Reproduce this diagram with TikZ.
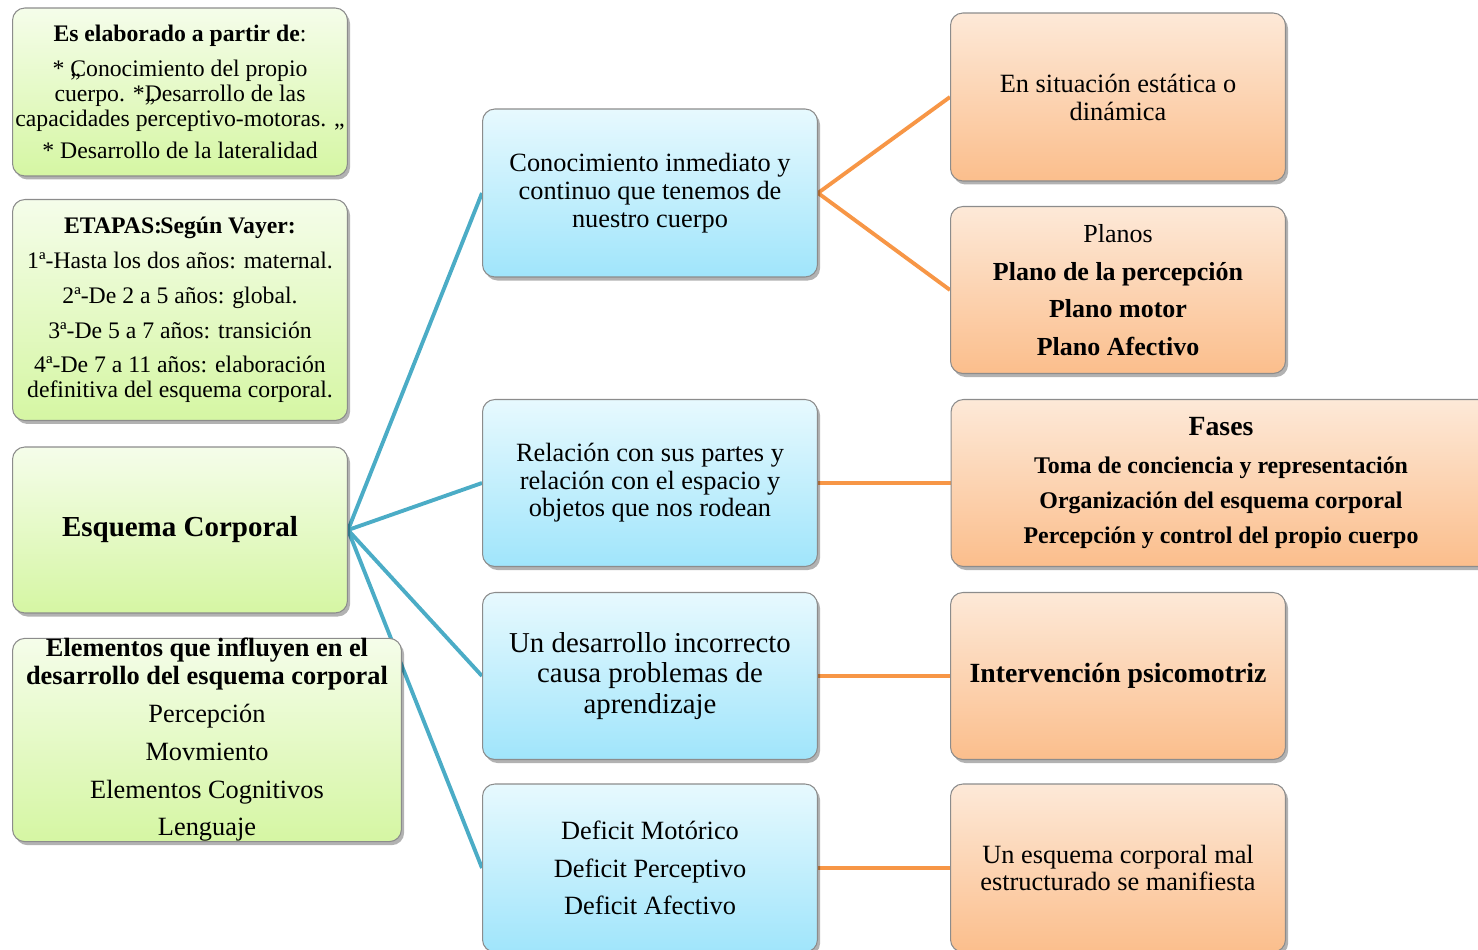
\documentclass[tikz,border=0pt]{standalone}
\usepackage{fontspec}
\setmainfont{Liberation Serif}
\usetikzlibrary{shadows,backgrounds}
\definecolor{lineblue}{RGB}{75,172,198}
\definecolor{lineorange}{RGB}{247,150,70}
\definecolor{boxgray}{RGB}{140,140,140}
\definecolor{greentop}{RGB}{245,253,234}
\definecolor{greenbot}{RGB}{213,246,163}
\definecolor{bluetop}{RGB}{231,249,254}
\definecolor{bluebot}{RGB}{160,229,251}
\definecolor{orangetop}{RGB}{253,233,216}
\definecolor{orangebot}{RGB}{251,190,140}
\tikzset{
  box/.style={draw=boxgray, line width=0.6pt, rounded corners=7pt, align=center,
    inner sep=0pt, minimum width=6.7cm,
    drop shadow={shadow xshift=1.5pt, shadow yshift=-2pt, opacity=0.3, fill=black}},
  greenbox/.style={box, top color=greentop, bottom color=greenbot},
  bluebox/.style={box, top color=bluetop, bottom color=bluebot},
  orangebox/.style={box, top color=orangetop, bottom color=orangebot},
  blueline/.style={draw=lineblue, line width=2.2pt},
  orangeline/.style={draw=lineorange, line width=2.2pt}
}
\begin{document}
\begin{tikzpicture}[x=0.02cm, y=-0.02cm]
  \useasboundingbox (0,0) rectangle (1478,950);

  \node[greenbox, minimum height=3.36cm, font=\fontsize{13.5}{14.2}\selectfont] (base) at (180,92)
    {\textbf{Es elaborado a partir de}:\\[5.6pt]
     * \rlap{„}Conocimiento del propio\\
     cuerpo. *\rlap{„}Desarrollo de las\\
     capacidades perceptivo-motoras. „\\[4.5pt]
     * Desarrollo de la lateralidad};
  \node[greenbox, minimum height=4.42cm, font=\fontsize{13.5}{14.2}\selectfont] (stages) at (180,310)
    {\textbf{ETAPAS:\kern-1pt Según Vayer:}\\[5.6pt]
     1ª-Hasta los dos años: maternal.\\[5.6pt]
     2ª-De 2 a 5 años: global.\\[5.6pt]
     3ª-De 5 a 7 años: transición\\[5.6pt]
     4ª-De 7 a 11 años: elaboración\\
     definitiva del esquema corporal.};
  \node[greenbox, minimum height=3.32cm, font=\fontsize{16.5}{18}\selectfont\bfseries] (esq) at (180,530)
    {Esquema Corporal};
  \node[greenbox, minimum width=7.78cm, minimum height=4cm, font=\fontsize{15}{15.9}\selectfont] (elem) at (207,740)
    {\textbf{Elementos que influyen en el}\\
     \textbf{desarrollo del esquema corporal}\\[5.6pt]
     Percepción\\[5.6pt]
     Movmiento\\[5.6pt]
     Elementos Cognitivos\\[5.6pt]
     Lenguaje};

  \node[bluebox, minimum height=3.36cm, font=\fontsize{15}{15.9}\selectfont] (know) at (650,193)
    {Conocimiento inmediato y\\ continuo que tenemos de\\ nuestro cuerpo};
  \node[bluebox, minimum height=3.34cm, font=\fontsize{15}{15.6}\selectfont] (rel) at (650,483)
    {Relación con sus partes y\\ relación con el espacio y\\ objetos que nos rodean};
  \node[bluebox, minimum height=3.34cm, font=\fontsize{16.4}{17.6}\selectfont] (dev) at (650,676)
    {Un desarrollo incorrecto\\ causa problemas de\\ aprendizaje};
  \node[bluebox, minimum height=3.36cm, font=\fontsize{15}{15.9}\selectfont] (def) at (650,868)
    {Deficit Motórico\\[5.6pt] Deficit Perceptivo\\[5.6pt] Deficit Afectivo};

  \node[orangebox, minimum height=3.36cm, font=\fontsize{15}{15.9}\selectfont] (sit) at (1118,97)
    {En situación estática o\\ dinámica};
  \node[orangebox, minimum height=3.34cm, font=\fontsize{14.8}{15.9}\selectfont] (planes) at (1118,290)
    {Planos\\[5.6pt] \textbf{Plano de la percepción}\\[5.6pt]
     \textbf{Plano motor}\\[5.6pt] \textbf{Plano Afectivo}};
  \node[orangebox, minimum width=10.8cm, minimum height=3.34cm, font=\fontsize{13.6}{14.4}\selectfont\bfseries] (phases) at (1221,483)
    {{\fontsize{15.8}{16}\selectfont Fases}\\[7pt]
     Toma de conciencia y representación\\[5.4pt]
     Organización del esquema corporal\\[5.4pt]
     Percepción y control del propio cuerpo};
  \node[orangebox, minimum height=3.34cm, font=\fontsize{15.8}{17}\selectfont\bfseries] (psy) at (1118,676)
    {Intervención psicomotriz};
  \node[orangebox, minimum height=3.36cm, font=\fontsize{15}{15.9}\selectfont] (bad) at (1118,868)
    {Un esquema corporal mal\\ estructurado se manifiesta};

  \begin{pgfonlayer}{background}
    \foreach \b in {know, rel, dev, def}
      \draw[blueline] (esq.east) -- (\b.west);
    \draw[orangeline] (know.east) -- (sit.west);
    \draw[orangeline] (know.east) -- (planes.west);
    \draw[orangeline] (rel.east) -- (phases.west);
    \draw[orangeline] (dev.east) -- (psy.west);
    \draw[orangeline] (def.east) -- (bad.west);
  \end{pgfonlayer}
\end{tikzpicture}
\end{document}
